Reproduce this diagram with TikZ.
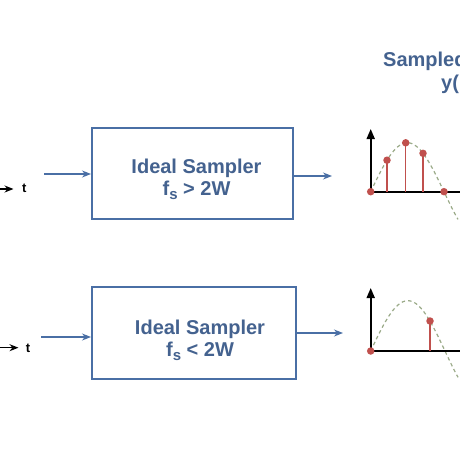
\documentclass[tikz,border=0pt]{standalone}
\usepackage{fontspec}
\setmainfont{Liberation Sans}
\usetikzlibrary{arrows.meta,positioning,calc}
\definecolor{sblue}{HTML}{4A6FA5}
\definecolor{stext}{HTML}{44628F}
\definecolor{sred}{HTML}{C0504D}
\definecolor{sgreen}{HTML}{9AAA88}
\newcommand{\fsub}{f\raisebox{-0.35ex}{\fontsize{15}{15}\selectfont s}}
\tikzset{
  blk/.style={draw=sblue,line width=2pt,fill=white,inner sep=0pt},
  blab/.style={font=\fontsize{20}{22.5}\selectfont\bfseries,text=stext,align=center,inner sep=0pt},
  ttl/.style={font=\fontsize{20}{22.5}\selectfont\bfseries,text=stext,inner sep=0pt},
  tlab/.style={font=\fontsize{13}{13}\selectfont\bfseries,inner sep=0pt},
  sarr/.style={-{Stealth[length=9pt,width=7pt]},draw=sblue,line width=1.2pt},
  tarr/.style={-{Stealth[length=9pt,width=7pt]},line width=1.4pt},
  axs/.style={line width=1.8pt},
  smp/.style={circle,fill=sred,inner sep=0pt,minimum size=7.5pt},
  stm/.style={draw=sred,line width=1.2pt},
  sig/.style={draw=sgreen,dash pattern=on 3.5pt off 3pt,line width=1.2pt},
}
\begin{document}
\begin{tikzpicture}[x=1pt,y=-1pt]
\useasboundingbox (0,0) rectangle (460,460);
% title (cut off at the right)
\node[ttl,anchor=base west] (ttl1) at (383,66.7) {Sampled};
\node[ttl,anchor=base west] (ttl2) at (441,89.7) {y(};

% top row: fs > 2W
\node[blk,minimum width=201pt,minimum height=91pt] (samp1) at (192.5,173.5) {};
\node[blab] (lab1) at (196.5,179) {Ideal Sampler\\\fsub\ > 2W};
\coordinate (in1) at (44,174);
\draw[sarr] (in1) -- (in1 -| samp1.west);
\coordinate (out1) at (332,176);
\draw[sarr] (out1 -| samp1.east) -- (out1);
\coordinate (ts1) at (-2,189);
\coordinate (te1) at (13.5,189);
\draw[tarr] (ts1) -- (te1);
\node[tlab] (t1) at (24.3,188.5) {t};

% top plot
\coordinate (o1) at (370.7,191.7);
\coordinate (yt1) at (370.7,129);
\coordinate (xe1) at (462,191.7);
\draw[sig] plot[domain=370.7:458,samples=60] (\x,{191.7-49*sin(180*(\x-370.7)/73.3)});
\draw[axs,-{Triangle[length=10pt,width=8pt]}] (o1) -- (yt1);
\draw[axs] (o1) -- (xe1);
\node[smp] (d1a) at (o1) {};
\node[smp] (d1b) at (387,160.2) {};
\node[smp] (d1c) at (405.7,142.8) {};
\node[smp] (d1d) at (423,153.3) {};
\node[smp] (d1e) at (444,191.7) {};
\foreach \dn in {d1b,d1c,d1d}
  \draw[stm] (\dn.center) -- (\dn |- o1);

% bottom row: fs < 2W
\node[blk,minimum width=204pt,minimum height=92pt] (samp2) at (194,333) {};
\node[blab] (lab2) at (200,340.3) {Ideal Sampler\\\fsub\ < 2W};
\coordinate (in2) at (41,337);
\draw[sarr] (in2) -- (in2 -| samp2.west);
\coordinate (out2) at (343,333);
\draw[sarr] (out2 -| samp2.east) -- (out2);
\coordinate (ts2) at (-2,347.7);
\coordinate (te2) at (18.5,347.7);
\draw[tarr] (ts2) -- (te2);
\node[tlab] (t2) at (28,348) {t};

% bottom plot
\coordinate (o2) at (370.7,351);
\coordinate (yt2) at (370.7,288);
\coordinate (xe2) at (462,351);
\draw[sig] plot[domain=370.7:458,samples=60] (\x,{351-50.3*sin(180*(\x-370.7)/74.3)});
\draw[axs,-{Triangle[length=10pt,width=8pt]}] (o2) -- (yt2);
\draw[axs] (o2) -- (xe2);
\node[smp] (d2a) at (o2) {};
\node[smp] (d2b) at (430,321) {};
\draw[stm] (d2b.center) -- (d2b |- o2);
\end{tikzpicture}
\end{document}
